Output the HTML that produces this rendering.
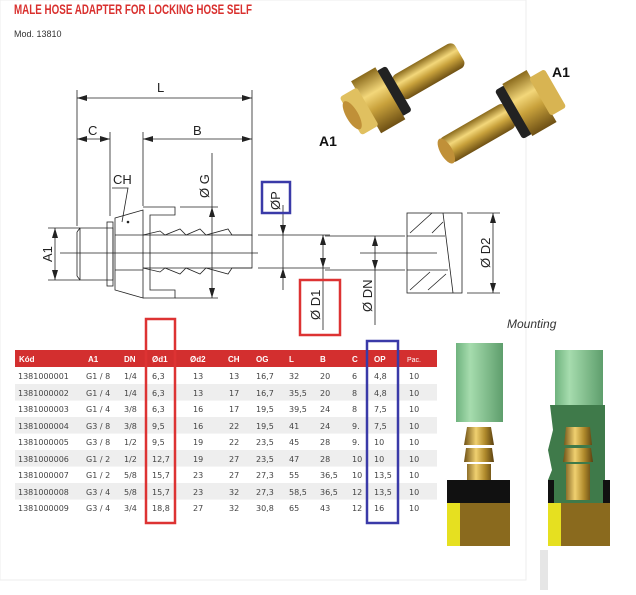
<!DOCTYPE html>
<html><head><style>
body{margin:0;background:#fff;width:636px;height:590px;overflow:hidden;font-family:"Liberation Sans",sans-serif}
</style></head><body>
<svg width="636" height="590" viewBox="0 0 636 590" xmlns="http://www.w3.org/2000/svg" font-family="Liberation Sans, sans-serif">
<defs>
<linearGradient id="br" x1="0" y1="0" x2="0" y2="1"><stop offset="0" stop-color="#8a6a1c"/><stop offset=".35" stop-color="#f3d77a"/><stop offset=".6" stop-color="#c9a23c"/><stop offset="1" stop-color="#6e5014"/></linearGradient>
<linearGradient id="brh" x1="0" y1="0" x2="1" y2="0"><stop offset="0" stop-color="#6e5014"/><stop offset=".4" stop-color="#f0d070"/><stop offset=".7" stop-color="#b08a2c"/><stop offset="1" stop-color="#5a4010"/></linearGradient>
<linearGradient id="gr" x1="0" y1="0" x2="1" y2="0"><stop offset="0" stop-color="#6fb37e"/><stop offset=".3" stop-color="#a6dcae"/><stop offset="1" stop-color="#5e9e6c"/></linearGradient>
</defs>
<rect x="0" y="0" width="526" height="580" fill="#fff" stroke="#eee"/>
<rect x="540" y="550" width="8" height="40" fill="#e6e6e6"/>
<text x="14" y="14" font-size="14" font-weight="bold" fill="#d9302e" textLength="238" lengthAdjust="spacingAndGlyphs">MALE HOSE ADAPTER FOR LOCKING HOSE SELF</text>
<text x="14" y="37" font-size="9" fill="#333">Mod. 13810</text>

<!-- drawing -->
<g stroke="#222" stroke-width="0.8" fill="none">
<line x1="77" y1="90" x2="77" y2="226"/><line x1="252" y1="90" x2="252" y2="236"/>
<line x1="110" y1="132" x2="110" y2="216"/><line x1="143" y1="132" x2="143" y2="206"/>
<line x1="77" y1="98" x2="252" y2="98"/><line x1="77" y1="139" x2="110" y2="139"/><line x1="143" y1="139" x2="252" y2="139"/>
<path d="M80 228 H113 V280 H80 Z M77 232 L80 228 M77 276 L80 280"/>
<line x1="77" y1="232" x2="77" y2="276"/>
<rect x="107" y="222" width="6" height="64"/>
<path d="M115 218 L143 210 V298 L115 290 Z"/>
<line x1="115" y1="235" x2="143" y2="235"/><line x1="115" y1="270" x2="143" y2="270"/>
<path d="M143 207 H175 V215 H150 V290 H175 V298 H143"/>
<path d="M143 235 L160 231 L165 235 L180 229 L186 235 L200 229 L206 235 L228 229 L232 235 H252 V268 H232 L228 274 L206 268 L200 274 L186 268 L180 274 L165 268 L160 272 L143 268"/>
<line x1="60" y1="253" x2="258" y2="253"/>
<line x1="143" y1="235" x2="252" y2="235"/><line x1="143" y1="268" x2="252" y2="268"/>
<line x1="48" y1="228" x2="80" y2="228"/><line x1="48" y1="280" x2="80" y2="280"/><line x1="55" y1="228" x2="55" y2="280"/>
<line x1="212" y1="153" x2="212" y2="298"/><line x1="180" y1="207" x2="218" y2="207"/><line x1="175" y1="298" x2="218" y2="298"/>
<path d="M112 188 H128 L122 222"/>
<line x1="258" y1="235" x2="330" y2="235"/><line x1="258" y1="268" x2="330" y2="268"/>
<line x1="283" y1="205" x2="283" y2="290"/>
<line x1="323" y1="235" x2="323" y2="330"/>
<line x1="325" y1="236" x2="405" y2="236"/><line x1="325" y1="270" x2="405" y2="270"/><line x1="360" y1="253" x2="437" y2="253"/>
<line x1="375" y1="236" x2="375" y2="325"/>
<rect x="407" y="213" width="55" height="80"/>
<line x1="443" y1="213" x2="453" y2="293"/>
<line x1="407" y1="236" x2="445" y2="236"/><line x1="407" y1="270" x2="448" y2="270"/>
<path d="M410 233 L432 213 M432 233 L443 222 M410 290 L430 272 M428 290 L446 274"/>
<line x1="467" y1="213" x2="500" y2="213"/><line x1="467" y1="293" x2="500" y2="293"/><line x1="493" y1="213" x2="493" y2="293"/>
</g>
<g fill="#222">
<path d="M77 98 l10 -3 v6z M252 98 l-10 -3 v6z M77 139 l10 -3 v6z M110 139 l-10 -3 v6z M143 139 l10 -3 v6z M252 139 l-10 -3 v6z"/>
<path d="M55 228 l-3 10 h6z M55 280 l-3 -10 h6z M212 207 l-3 10 h6z M212 298 l-3 -10 h6z"/>
<path d="M283 235 l-3 -10 h6z M283 268 l-3 10 h6z M323 235 l-3 10 h6z M323 268 l-3 -10 h6z M375 236 l-3 10 h6z M375 270 l-3 -10 h6z M493 213 l-3 10 h6z M493 293 l-3 -10 h6z"/>
<circle cx="128" cy="222" r="1.3"/>
</g>
<g font-size="13" fill="#222">
<text x="157" y="92">L</text><text x="88" y="135">C</text><text x="193" y="135">B</text><text x="113" y="184">CH</text>
<text transform="translate(52 262) rotate(-90)">A1</text>
<text transform="translate(209 198) rotate(-90)">Ø G</text>
<text transform="translate(280 210) rotate(-90)">ØP</text>
<text transform="translate(320 320) rotate(-90)">Ø D1</text>
<text transform="translate(372 312) rotate(-90)">Ø DN</text>
<text transform="translate(490 268) rotate(-90)">Ø D2</text>
</g>
<rect x="262" y="182" width="28" height="31" fill="none" stroke="#3a3aa8" stroke-width="2.5"/>
<rect x="300" y="280" width="40" height="55" fill="none" stroke="#d33" stroke-width="2.5"/>
<text x="507" y="328" font-size="12" font-style="italic" fill="#333">Mounting</text>

<!-- photos -->
<text x="319" y="146" font-size="14" font-weight="bold" fill="#111">A1</text>
<text x="552" y="77" font-size="14" font-weight="bold" fill="#111">A1</text>
<g transform="rotate(-30 400 90)">
<rect x="398" y="74" width="72" height="28" rx="6" fill="url(#br)"/>
<rect x="388" y="62" width="12" height="52" fill="#222" rx="3"/>
<rect x="362" y="58" width="28" height="60" fill="url(#br)"/>
<rect x="344" y="66" width="20" height="44" fill="#e0c060" rx="3"/>
<ellipse cx="346" cy="88" rx="6" ry="16" fill="#c09038"/>
</g>
<g transform="rotate(-30 500 120)">
<rect x="436" y="106" width="76" height="28" rx="6" fill="url(#br)"/>
<ellipse cx="438" cy="120" rx="6" ry="14" fill="#c09038"/>
<rect x="510" y="92" width="12" height="56" fill="#222" rx="3"/>
<rect x="520" y="90" width="28" height="60" fill="url(#br)"/>
<rect x="546" y="98" width="18" height="44" fill="#d8b452" rx="3"/>
</g>

<!-- mounting -->
<rect x="456" y="343" width="47" height="79" fill="url(#gr)"/>
<path d="M467 427 H491 L494 445 H464 Z M466 448 H492 L494 462 H464 Z M467 464 H491 V480 H467Z" fill="url(#brh)"/>
<rect x="447" y="480" width="63" height="23" fill="#111"/>
<rect x="447" y="503" width="63" height="43" fill="#8a6a1e"/><rect x="447" y="503" width="13" height="43" fill="#e6e020"/>
<rect x="555" y="350" width="48" height="55" fill="url(#gr)"/>
<path d="M550 405 H605 V503 H548 V480 L552 470 L548 450 L553 430Z" fill="#3f7a4a"/>
<rect x="548" y="480" width="6" height="23" fill="#111"/><rect x="603" y="480" width="7" height="23" fill="#111"/>
<path d="M566 427 H590 L592 445 H564 Z M565 448 H591 L593 462 H563 Z M566 464 H590 V500 H566Z" fill="url(#brh)"/>
<rect x="548" y="503" width="62" height="43" fill="#8a6a1e"/><rect x="548" y="503" width="13" height="43" fill="#e6e020"/>

<!-- table -->
<rect x="15" y="350" width="422" height="17" fill="#d32f2f"/>
<g fill="#eeeeee">
<rect x="15" y="384" width="422" height="16.6"/><rect x="15" y="417" width="422" height="16.6"/><rect x="15" y="450" width="422" height="16.6"/><rect x="15" y="483" width="422" height="16.6"/>
</g>
<g font-size="8" font-weight="bold" fill="#fff">
<text x="19" y="362">Kód</text><text x="88" y="362">A1</text><text x="124" y="362">DN</text><text x="152" y="362">Ød1</text><text x="190" y="362">Ød2</text><text x="228" y="362">CH</text><text x="256" y="362">OG</text><text x="289" y="362">L</text><text x="320" y="362">B</text><text x="352" y="362">C</text><text x="374" y="362">OP</text><text x="407" y="362" font-weight="normal" font-size="7">Pac.</text>
</g>
<g font-size="8" fill="#444" font-family="DejaVu Sans, sans-serif">
<text y="379"><tspan x="18">1381000001</tspan><tspan x="86">G1 / 8</tspan><tspan x="124">1/4</tspan><tspan x="152">6,3</tspan><tspan x="193">13</tspan><tspan x="229">13</tspan><tspan x="256">16,7</tspan><tspan x="289">32</tspan><tspan x="320">20</tspan><tspan x="352">6</tspan><tspan x="374">4,8</tspan><tspan x="409">10</tspan></text>
<text y="396"><tspan x="18">1381000002</tspan><tspan x="86">G1 / 4</tspan><tspan x="124">1/4</tspan><tspan x="152">6,3</tspan><tspan x="193">13</tspan><tspan x="229">17</tspan><tspan x="256">16,7</tspan><tspan x="289">35,5</tspan><tspan x="320">20</tspan><tspan x="352">8</tspan><tspan x="374">4,8</tspan><tspan x="409">10</tspan></text>
<text y="412"><tspan x="18">1381000003</tspan><tspan x="86">G1 / 4</tspan><tspan x="124">3/8</tspan><tspan x="152">6,3</tspan><tspan x="193">16</tspan><tspan x="229">17</tspan><tspan x="256">19,5</tspan><tspan x="289">39,5</tspan><tspan x="320">24</tspan><tspan x="352">8</tspan><tspan x="374">7,5</tspan><tspan x="409">10</tspan></text>
<text y="429"><tspan x="18">1381000004</tspan><tspan x="86">G3 / 8</tspan><tspan x="124">3/8</tspan><tspan x="152">9,5</tspan><tspan x="193">16</tspan><tspan x="229">22</tspan><tspan x="256">19,5</tspan><tspan x="289">41</tspan><tspan x="320">24</tspan><tspan x="352">9.</tspan><tspan x="374">7,5</tspan><tspan x="409">10</tspan></text>
<text y="445"><tspan x="18">1381000005</tspan><tspan x="86">G3 / 8</tspan><tspan x="124">1/2</tspan><tspan x="152">9,5</tspan><tspan x="193">19</tspan><tspan x="229">22</tspan><tspan x="256">23,5</tspan><tspan x="289">45</tspan><tspan x="320">28</tspan><tspan x="352">9.</tspan><tspan x="374">10</tspan><tspan x="409">10</tspan></text>
<text y="462"><tspan x="18">1381000006</tspan><tspan x="86">G1 / 2</tspan><tspan x="124">1/2</tspan><tspan x="152">12,7</tspan><tspan x="193">19</tspan><tspan x="229">27</tspan><tspan x="256">23,5</tspan><tspan x="289">47</tspan><tspan x="320">28</tspan><tspan x="352">10</tspan><tspan x="374">10</tspan><tspan x="409">10</tspan></text>
<text y="478"><tspan x="18">1381000007</tspan><tspan x="86">G1 / 2</tspan><tspan x="124">5/8</tspan><tspan x="152">15,7</tspan><tspan x="193">23</tspan><tspan x="229">27</tspan><tspan x="256">27,3</tspan><tspan x="289">55</tspan><tspan x="320">36,5</tspan><tspan x="352">10</tspan><tspan x="374">13,5</tspan><tspan x="409">10</tspan></text>
<text y="495"><tspan x="18">1381000008</tspan><tspan x="86">G3 / 4</tspan><tspan x="124">5/8</tspan><tspan x="152">15,7</tspan><tspan x="193">23</tspan><tspan x="229">32</tspan><tspan x="256">27,3</tspan><tspan x="289">58,5</tspan><tspan x="320">36,5</tspan><tspan x="352">12</tspan><tspan x="374">13,5</tspan><tspan x="409">10</tspan></text>
<text y="511"><tspan x="18">1381000009</tspan><tspan x="86">G3 / 4</tspan><tspan x="124">3/4</tspan><tspan x="152">18,8</tspan><tspan x="193">27</tspan><tspan x="229">32</tspan><tspan x="256">30,8</tspan><tspan x="289">65</tspan><tspan x="320">43</tspan><tspan x="352">12</tspan><tspan x="374">16</tspan><tspan x="409">10</tspan></text>
</g>
<rect x="146" y="319" width="29" height="204" fill="none" stroke="#d33" stroke-width="2.5"/>
<rect x="367" y="341" width="31" height="182" fill="none" stroke="#3a3aa8" stroke-width="2.5"/>
</svg>
</body></html>
